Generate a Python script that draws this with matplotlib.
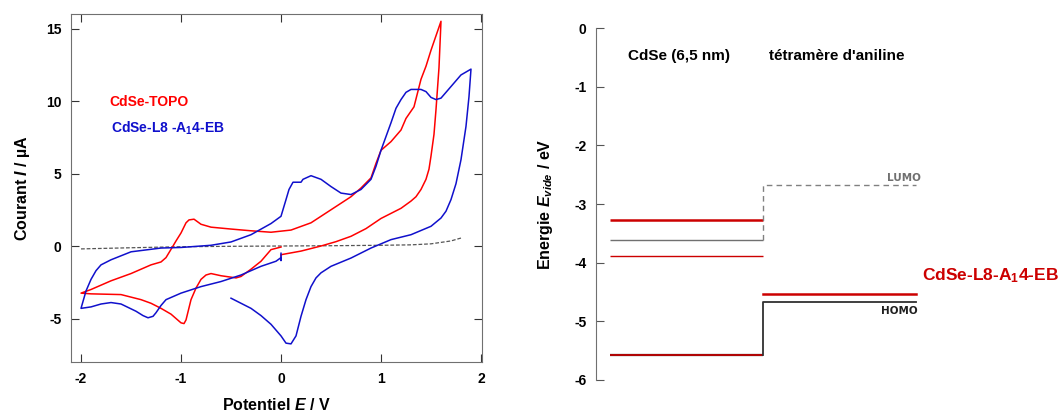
import matplotlib.pyplot as plt

plt.rcParams['font.family'] = ['Liberation Sans', 'DejaVu Sans']
plt.rcParams['mathtext.fontset'] = 'custom'
plt.rcParams['mathtext.rm'] = 'Liberation Sans:bold'
plt.rcParams['mathtext.it'] = 'Liberation Sans:bold:italic'
plt.rcParams['mathtext.bf'] = 'Liberation Sans:bold'
plt.rcParams['axes.unicode_minus'] = False

# voltammogramme CdSe-TOPO (rouge)
E_topo = [0.0, 0.0, 0.2, 0.4, 0.55, 0.7, 0.85, 1.0, 1.1, 1.2, 1.3, 1.35, 1.4, 1.45,
          1.48, 1.5, 1.53, 1.55, 1.58, 1.6,
          1.55, 1.5, 1.45, 1.4, 1.33, 1.25, 1.2, 1.1, 1.0, 0.95, 0.9, 0.8, 0.7, 0.5,
          0.3, 0.1, -0.1, -0.3, -0.5, -0.7, -0.8, -0.85, -0.87, -0.92, -0.95, -1.0,
          -1.05, -1.08, -1.15, -1.2, -1.3, -1.5, -1.7, -1.9, -2.0,
          -1.9, -1.6, -1.4, -1.3, -1.2, -1.1, -1.05, -1.0, -0.97, -0.95, -0.9,
          -0.85, -0.8, -0.75, -0.7, -0.6, -0.5, -0.45, -0.4, -0.35, -0.3, -0.2,
          -0.1, 0.0]
I_topo = [-0.7, -0.6, -0.35, 0.0, 0.3, 0.67, 1.2, 1.9, 2.25, 2.6, 3.1, 3.4, 3.9, 4.6,
          5.3, 6.2, 7.7, 9.4, 12.3, 15.5,
          14.5, 13.5, 12.4, 11.5, 9.6, 8.8, 8.0, 7.2, 6.6, 5.7, 4.7, 4.0, 3.4, 2.5,
          1.6, 1.1, 0.95, 1.05, 1.17, 1.3, 1.5, 1.75, 1.85, 1.8, 1.6, 0.9,
          0.35, 0.0, -0.8, -1.1, -1.3, -1.9, -2.4, -3.0, -3.25,
          -3.3, -3.35, -3.7, -3.95, -4.3, -4.7, -5.0, -5.3, -5.35, -5.1, -3.7,
          -2.9, -2.3, -2.0, -1.9, -2.05, -2.15, -2.2, -2.1, -1.85, -1.6, -1.05,
          -0.25, -0.07]

# voltammogramme CdSe-L8-A14-EB (bleu)
E_eb = [-0.5, -0.3, -0.2, -0.1, 0.0, 0.05, 0.1, 0.15, 0.2, 0.25, 0.3, 0.35, 0.4, 0.5,
        0.7, 0.9, 1.1, 1.3, 1.5, 1.6, 1.65, 1.7, 1.75, 1.8, 1.85, 1.88, 1.9,
        1.85, 1.8, 1.7, 1.6, 1.55, 1.5, 1.45, 1.4, 1.3, 1.25, 1.2, 1.15, 1.1, 1.0,
        0.95, 0.9, 0.8, 0.7, 0.6, 0.5, 0.4, 0.3, 0.22, 0.2, 0.12, 0.08, 0.05, 0.0,
        -0.1, -0.3, -0.5, -0.7, -1.0, -1.2, -1.5, -1.7, -1.8, -1.85, -1.9, -1.95,
        -2.0,
        -1.9, -1.8, -1.7, -1.6, -1.45, -1.38, -1.33, -1.28, -1.25, -1.2, -1.15,
        -1.0, -0.8, -0.6, -0.4, -0.2, -0.05, 0.0, 0.0, 0.0]
I_eb = [-3.6, -4.3, -4.8, -5.4, -6.2, -6.7, -6.75, -6.2, -4.85, -3.7, -2.8, -2.2,
        -1.85, -1.4, -0.83, -0.14, 0.44, 0.78, 1.36, 1.93, 2.4, 3.2, 4.3, 5.95,
        8.25, 10.3, 12.2,
        12.0, 11.8, 11.0, 10.2, 10.1, 10.25, 10.65, 10.8, 10.8, 10.6, 10.1, 9.5,
        8.5, 6.6, 5.5, 4.6, 3.9, 3.55, 3.65, 4.1, 4.6, 4.85, 4.6, 4.4, 4.4, 3.9,
        3.2, 2.05, 1.55, 0.78, 0.28, 0.05, -0.1, -0.14, -0.4, -0.95, -1.3, -1.7,
        -2.3, -3.1, -4.3,
        -4.2, -4.0, -3.9, -4.0, -4.5, -4.8, -4.95, -4.85, -4.6, -4.1, -3.7,
        -3.25, -2.8, -2.45, -2.0, -1.4, -1.05, -0.8, -1.0, -0.5]

# ligne de base (gris pointille)
E_base = [-2.0, -1.5, -1.0, -0.5, 0.0, 0.5, 1.0, 1.3, 1.5, 1.7, 1.8]
I_base = [-0.2, -0.12, -0.05, -0.02, 0.0, 0.02, 0.05, 0.08, 0.15, 0.35, 0.55]

# niveaux d'energie (eV)
cdse_levels = [-3.28, -3.62, -3.89, -5.58, -5.58]
cdse_colors = ['#cc0000', '#707070', '#cc0000', '#202020', '#cc0000']
cdse_widths = [1.8, 1.0, 1.0, 1.6, 1.2]
tetra_lumo = -2.68
tetra_homo = -4.68
tetra_eb = -4.54

fig = plt.figure(figsize=(10.6, 4.13), dpi=100)

ax1 = fig.add_axes([0.067, 0.1235, 0.3877, 0.8425])
ax1.plot(E_base, I_base, color='#555555', lw=0.9, ls=(0, (3, 1.5)))
ax1.plot(E_topo, I_topo, color='#ff0000', lw=1.1)
ax1.plot(E_eb, I_eb, color='#1010cc', lw=1.1)
ax1.set_xlim(-2.1, 2.01)
ax1.set_ylim(-8, 16)
ax1.set_xticks([-2, -1, 0, 1, 2])
ax1.set_yticks([-5, 0, 5, 10, 15])
ax1.tick_params(direction='in', length=6, top=True, right=True, labelsize=10,
                color='#333333', pad=7)
for lab in ax1.get_xticklabels() + ax1.get_yticklabels():
    lab.set_fontweight('bold')
for s in ax1.spines.values():
    s.set_color('#707070')
ax1.set_xlabel('Potentiel $E$ / V', fontsize=11.5, fontweight='bold', labelpad=8)
ax1.set_ylabel('Courant $I$ / µA', fontsize=11.5, fontweight='bold', labelpad=10)
ax1.text(-1.72, 9.9, 'CdSe-TOPO', color='#ff0000', fontsize=10, fontweight='bold',
         va='center')
ax1.text(-1.70, 8.1, 'CdSe-L8 -A$_1$4-EB', color='#1010cc', fontsize=10,
         fontweight='bold', va='center')

ax2 = fig.add_axes([0.5623, 0.0806, 0.4377, 0.8509])
for lvl, c, w in zip(cdse_levels, cdse_colors, cdse_widths):
    ax2.plot([0, 1], [lvl, lvl], color=c, lw=w, solid_capstyle='butt')
ax2.plot([1, 1, 2], [cdse_levels[1], tetra_lumo, tetra_lumo], color='#808080',
         lw=1.0, ls=(0, (4, 3)))
ax2.plot([1, 1, 2], [cdse_levels[3], tetra_homo, tetra_homo], color='#303030',
         lw=1.3)
ax2.plot([1, 2], [tetra_eb, tetra_eb], color='#cc0000', lw=1.8)
ax2.set_xlim(-0.0915, 2.94)
ax2.set_ylim(-6, 0)
ax2.set_yticks([0, -1, -2, -3, -4, -5, -6])
ax2.set_xticks([])
for side in ['top', 'right', 'bottom']:
    ax2.spines[side].set_visible(False)
ax2.spines['left'].set_color('#707070')
ax2.tick_params(direction='in', length=6, labelsize=10, color='#555555', pad=7)
for lab in ax2.get_yticklabels():
    lab.set_fontweight('bold')
ax2.set_ylabel('Energie $E_{vide}$ / eV', fontsize=11.5, fontweight='bold',
               labelpad=14)
ax2.text(0.45, -0.47, 'CdSe (6,5 nm)', fontsize=11, fontweight='bold',
         ha='center', va='center')
ax2.text(1.48, -0.47, "tétramère d'aniline", fontsize=11, fontweight='bold',
         ha='center', va='center')
ax2.text(2.03, -2.55, 'LUMO', fontsize=7.5, fontweight='bold', color='#707070',
         ha='right', va='center', family='DejaVu Sans')
ax2.text(2.01, -4.83, 'HOMO', fontsize=7.5, fontweight='bold', color='#202020',
         ha='right', va='center', family='DejaVu Sans')
ax2.text(2.04, -4.23, 'CdSe-L8-A$_1$4-EB', fontsize=12.5, fontweight='bold',
         color='#cc0000', ha='left', va='center')

fig.savefig('out.png', dpi=100)
